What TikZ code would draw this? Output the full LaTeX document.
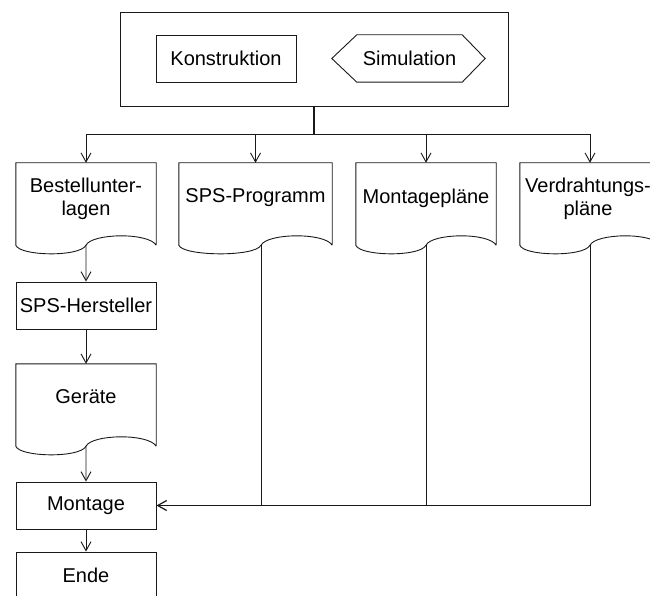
\documentclass[tikz,border=0pt]{standalone}
\usepackage{fontspec}
\setmainfont{Liberation Sans}
\usetikzlibrary{arrows.meta,calc}

\tikzset{
  line/.style={line width=0.9pt, draw=black!90},
  arr/.style={line, -{Straight Barb[length=9pt,width=10pt]}},
  lbl/.style={font=\fontsize{20}{23}\selectfont, align=center, inner sep=0pt},
  box/.style={line, lbl, rectangle, minimum width=140pt, minimum height=47pt},
  docbody/.style={rectangle, inner sep=0pt, minimum width=140pt, minimum height=82pt},
}

% document symbol: outline with wavy lower edge, cusp coordinate (<name>-w)
\newcommand\docwave[2]{%
  \path ($(#1.south west)!#2!(#1.south east)$) coordinate (#1-w);
  \draw[line] (#1.south east) -- (#1.north east) -- (#1.north west) -- (#1.south west)
    .. controls +(4,11) and +(-6,12) .. (#1-w)
    .. controls +(6,-12) and +(-8,-13) .. (#1.south east);
}

\begin{document}
\begin{tikzpicture}[x=1pt,y=-1pt]
\clip (0,0) rectangle (650,596);

% header block
\node[line, rectangle, minimum width=388pt, minimum height=94pt] (top) at (314,59) {};
\node[box] (kon) at (226,58.5) {Konstruktion};
\node[rectangle, inner sep=0pt, minimum width=105pt, minimum height=47pt, lbl] (sim) at (409.5,58.5) {Simulation};
\draw[line] (sim.north west) -- (sim.north east) -- ($(sim.east)+(23,0)$)
  -- (sim.south east) -- (sim.south west) -- ($(sim.west)+(-25,0)$) -- cycle;

% documents of the upper row
\node[docbody] (bestell) at (86,204) {};
\node[docbody, minimum width=153pt] (sps) at (255.5,204) {};
\node[docbody] (mplan) at (426,204) {};
\node[docbody] (vplan) at (590,204) {};
\docwave{bestell}{0.5}
\docwave{sps}{0.536}
\docwave{mplan}{0.5}
\docwave{vplan}{0.5}
\node[lbl] (bestell-t) at (86,199) {Bestellunter-\\lagen};
\node[lbl] (sps-t) at (255.5,198) {SPS-Programm};
\node[lbl] (mplan-t) at (426,198) {Montagepläne};
\node[lbl] (vplan-t) at (588,199) {Verdrahtungs-\\pläne};

% left column
\node[box] (herst) at (86,305.5) {SPS-Hersteller};
\node[docbody] (geraete) at (86,405) {};
\docwave{geraete}{0.5}
\node[lbl] (geraete-t) at (86,397) {Geräte};
\node[box] (montage) at (86,505.5) {Montage};
\node[box] (ende) at (86,575.5) {Ende};

% distribution from the header
\coordinate (fork) at (314,134);
\draw[line, line width=1.6pt] (top.south) -- (fork);
\draw[arr] (fork) -| (bestell.north);
\draw[arr] (fork) -| (sps.north);
\draw[arr] (fork) -| (mplan.north);
\draw[arr] (fork) -| (vplan.north);

% left chain
\draw[arr] (bestell-w) -- (herst.north);
\draw[arr] (herst) -- (geraete.north);
\draw[arr] (geraete-w) -- (montage.north);
\draw[arr] (montage) -- (ende);

% return lines to Montage
\coordinate (sps-j) at (sps-w |- montage.east);
\coordinate (mplan-j) at (mplan-w |- montage.east);
\coordinate (vplan-j) at (vplan-w |- montage.east);
\draw[line] (sps-w) -- (sps-j);
\draw[line] (mplan-w) -- (mplan-j);
\draw[line] (vplan-w) -- (vplan-j) -- (mplan-j);
\draw[line, line width=1.2pt] (mplan-j) -- (sps-j);
\draw[arr, line width=1.2pt] (sps-j) -- (montage.east);
\end{tikzpicture}
\end{document}
